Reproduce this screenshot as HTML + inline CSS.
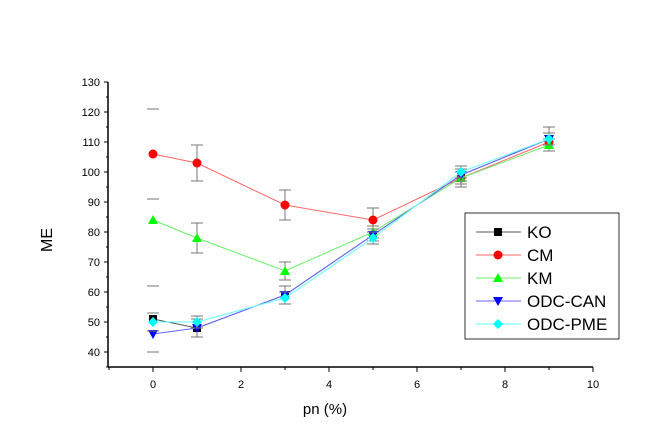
<!DOCTYPE html>
<html><head><meta charset="utf-8"><style>
body{margin:0;background:#fff;}
svg{font-family:"Liberation Sans",Arial,sans-serif;}
</style></head><body>
<svg id="chart" width="649" height="440" xmlns="http://www.w3.org/2000/svg">
<g id="axes"></g>
<g id="plot"></g>
<text x="52" y="240" font-size="16" text-anchor="middle" transform="rotate(-90 52 240)">ME</text>
<text x="325" y="414" font-size="15" text-anchor="middle">pn (%)</text>
<g id="legend"></g>
</svg>
<script>
const xValues=[0,1,3,5,7,9];
const seriesNames=["KO","CM","KM","ODC-CAN","ODC-PME"];
const koValues=[51,48,59,79,99,111];
const cmValues=[106,103,89,84,98,110];
const kmValues=[84,78,67,80,98,109];
const canValues=[46,48,59,79,99,111];
const pmeValues=[50,50,58,78,100,111];
const koErr=[11,3,3,3,3,4];
const cmErr=[15,6,5,4,3,3];
const kmErr=[0,5,3,2,2,2];
const canErr=[0,3,3,2,2,2];
const pmeErr=[3,2,2,2,2,2];
const yTicks=[40,50,60,70,80,90,100,110,120,130];
const xTicks=[0,2,4,6,8,10];
const NS="http://www.w3.org/2000/svg";
const X=v=>153+v*44;
const Y=v=>352-(v-40)*3;
function mk(tag,attrs,parent){const e=document.createElementNS(NS,tag);for(const k in attrs)e.setAttribute(k,attrs[k]);parent.appendChild(e);return e;}
const axes=document.getElementById('axes');
const plot=document.getElementById('plot');
let a=mk('line',{x1:108,y1:82,x2:108,y2:367,stroke:'#000','stroke-width':1.5},axes);


a=mk('line',{x1:108,y1:367,x2:X(10),y2:367,stroke:'#000','stroke-width':1.5},axes);


for(let v=35;v<=130;v+=5){const big=v%10===0;mk('line',{x1:108,y1:Y(v),x2:big?104:106,y2:Y(v),stroke:'#000'},axes);}
yTicks.forEach(v=>{const t=mk('text',{x:100,y:Y(v)+4,'font-size':11,'text-anchor':'end'},axes);t.textContent=v;

});
for(let v=-1;v<=10;v++){mk('line',{x1:X(v),y1:367,x2:X(v),y2:v%2===0?372:370,stroke:'#000'},axes);}
xTicks.forEach(v=>{const t=mk('text',{x:X(v),y:388,'font-size':11,'text-anchor':'middle'},axes);t.textContent=v;

});
const vals=[koValues,cmValues,kmValues,canValues,pmeValues];
const errs=[koErr,cmErr,kmErr,canErr,pmeErr];
const lineCols=['#555','#f66','#6e6','#66f','#6ff'];
const markCols=['#000','#f00','#0f0','#00f','#0ff'];
function marker(k,cx,cy,p){
 if(k===0) return mk('rect',{x:cx-4,y:cy-4,width:8,height:8,fill:markCols[k]},p);
 if(k===1) return mk('circle',{cx:cx,cy:cy,r:4.5,fill:markCols[k]},p);
 if(k===2) return mk('polygon',{points:`${cx},${cy-5} ${cx+5},${cy+4} ${cx-5},${cy+4}`,fill:markCols[k]},p);
 if(k===3) return mk('polygon',{points:`${cx-5},${cy-4} ${cx+5},${cy-4} ${cx},${cy+5}`,fill:markCols[k]},p);
 return mk('polygon',{points:`${cx},${cy-5} ${cx+5},${cy} ${cx},${cy+5} ${cx-5},${cy}`,fill:markCols[k]},p);
}
vals.forEach((s,k)=>{
 const g=mk('g',{},plot);
 
 
 s.forEach((v,i)=>{const x=X(xValues[i]),e=errs[k][i];
  if(e===0) return;
  if(i>0) mk('line',{x1:x,y1:Y(v-e),x2:x,y2:Y(v+e),stroke:'#777'},g);
  mk('line',{x1:x-6,y1:Y(v+e),x2:x+6,y2:Y(v+e),stroke:'#777'},g);
  mk('line',{x1:x-6,y1:Y(v-e),x2:x+6,y2:Y(v-e),stroke:'#777'},g);});
 mk('polyline',{points:s.map((v,i)=>X(xValues[i])+','+Y(v)).join(' '),fill:'none',stroke:lineCols[k],'stroke-width':1},g);
 s.forEach((v,i)=>{const m=marker(k,X(xValues[i]),Y(v),g);
  
  });
});
const lg=document.getElementById('legend');
mk('rect',{x:465,y:213,width:154,height:126,fill:'#fff',stroke:'#333','stroke-width':1},lg);
seriesNames.forEach((n,k)=>{const y=232+k*23;
 const eg=mk('g',{},lg);
 
 
 mk('line',{x1:476,y1:y,x2:521,y2:y,stroke:lineCols[k]},eg);
 marker(k,498,y,eg);
 const t=mk('text',{x:527,y:y+6,'font-size':17},eg);t.textContent=n;});
</script>
</body></html>
